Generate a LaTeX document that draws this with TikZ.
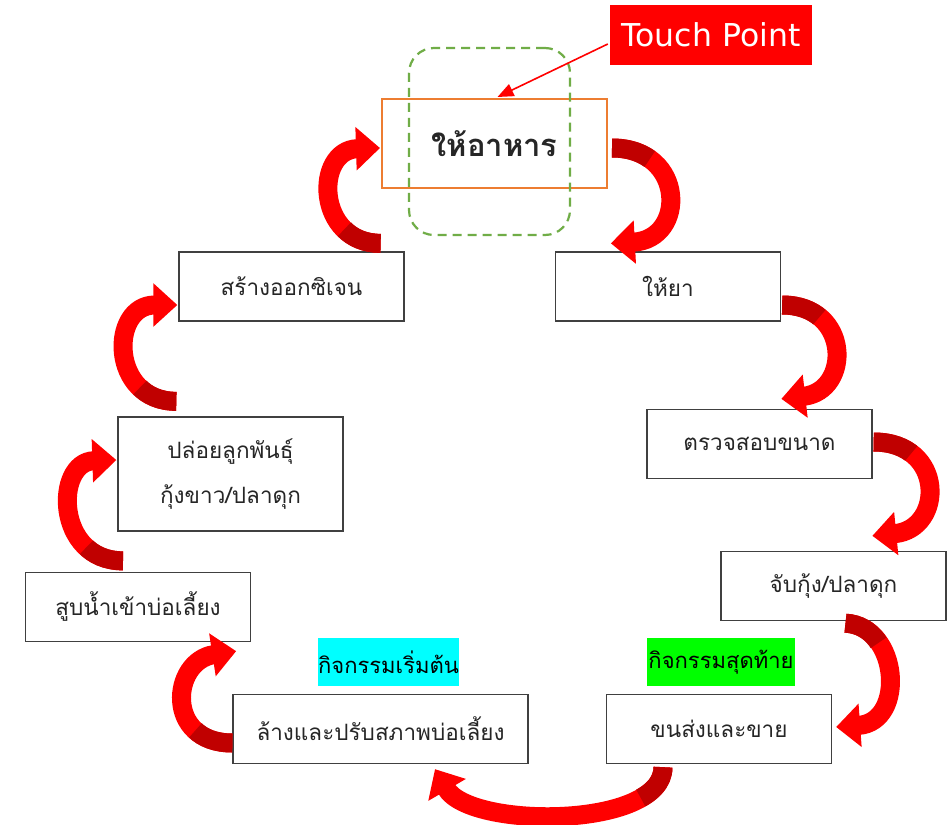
\documentclass[tikz,border=0pt]{standalone}
\usepackage{fontspec}
\newfontfamily\thai[Script=Thai]{Loma}
\newfontfamily\dejavu{DejaVu Sans}
\usetikzlibrary{arrows.meta,calc}
\definecolor{boxline}{HTML}{404040}
\definecolor{orangeline}{HTML}{ED7D31}
\definecolor{greendash}{HTML}{70AD47}
\definecolor{ribred}{HTML}{FF0000}
\definecolor{ribdark}{HTML}{C00000}
\definecolor{tagcyan}{HTML}{00FFFF}
\definecolor{taggreen}{HTML}{00FF00}
\newcommand\ribbonarrow[4]{%
  \draw[rib] #1 .. controls #2 and #3 .. #4;
  \draw[ribshade] #1 .. controls #2 and #3 .. #4;}
\begin{document}
\begin{tikzpicture}[x=1pt,y=-1pt,
  stepbox/.style={draw=boxline, line width=1.3pt, fill=white, minimum width=225pt,
    minimum height=69pt, inner sep=0pt, align=center, text=black!85,
    font=\thai\fontsize{22.5}{45}\selectfont},
  tag/.style={inner sep=0pt, minimum height=48pt, text=black,
    font=\thai\fontsize{22}{24}\selectfont},
  rib/.style={draw=ribred, line width=19pt, -{Triangle[width=42pt,length=24pt]}},
  ribshade/.style={draw=ribdark, line width=19pt, dash pattern=on 40pt off 5000pt}]
\useasboundingbox (0,0) rectangle (951,825);
\fill[white] (0,0) rectangle (951,825);

% nodes
\node[stepbox, draw=orangeline, line width=2pt, minimum height=89pt,
  font=\thai\bfseries\fontsize{31}{34}\selectfont] (feed) at (494.5,143.5) {ให้อาหาร};
\node[stepbox] (give) at (668,286.5) {ให้ยา};
\node[stepbox] (check) at (759.5,444) {ตรวจสอบขนาด};
\node[stepbox] (catch) at (833.5,586) {จับกุ้ง/ปลาดุก};
\node[stepbox] (ship) at (719,729) {ขนส่งและขาย};
\node[stepbox, minimum width=295pt] (wash) at (380.5,729) {ล้างและปรับสภาพบ่อเลี้ยง};
\node[stepbox] (pump) at (138,607) {สูบน้ำเข้าบ่อเลี้ยง};
\node[stepbox, minimum height=114pt] (release) at (230.5,474) {ปล่อยลูกพันธุ์\\กุ้งขาว/ปลาดุก};
\node[stepbox] (oxy) at (291.5,286.5) {สร้างออกซิเจน};

\node[tag, fill=tagcyan, minimum width=141pt] (start) at (388.5,662) {กิจกรรมเริ่มต้น};
\node[tag, fill=taggreen, minimum width=148pt] (end) at (721,662) {กิจกรรมสุดท้าย};

\node[fill=red, minimum width=202pt, minimum height=60pt, inner sep=0pt, text=white,
  font=\dejavu\fontsize{31.5}{34}\selectfont] (touch) at (711,35) {Touch Point};
\node[draw=greendash, line width=2.2pt, dash pattern=on 9pt off 6pt, rounded corners=25pt,
  minimum width=161pt, minimum height=187pt, inner sep=0pt] (tp) at (489.5,141.5) {};

\draw[red, line width=1.6pt, -{Triangle[width=13pt,length=16pt]}]
  ($(touch.west)+(-2,9)$) -- ($(feed.north)+(3,-1)$);

% curved arrows
\ribbonarrow{($(feed.east)+(4,4.5)$)}{+(74,0)}{+(76,-4)}{($(give.north west)+(56,-8)$)}
\ribbonarrow{($(give.east)+(1,18.5)$)}{+(69,0)}{+(70,-8)}{($(check.north west)+(135,-10)$)}
\ribbonarrow{($(check.east)+(1,-2)$)}{+(72,0)}{+(72,-7)}{($(catch.north west)+(152,-15)$)}
\ribbonarrow{($(catch.south)+(12,2)$)}{+(54,3)}{+(70,-5)}{($(ship.east)+(4,-2)$)}
\ribbonarrow{($(ship.south)+(-56,3)$)}{+(0,62)}{+(35,60)}{($(wash.south)+(54.5,5)$)}
\ribbonarrow{($(wash.west)+(0,14)$)}{+(-68,0)}{+(-65,10)}{($(pump.south east)+(-15,9)$)}
\ribbonarrow{($(pump.north)+(-15,-11)$)}{+(-68,0)}{+(-62,2)}{($(release.west)+(-1,-14)$)}
\ribbonarrow{($(release.north west)+(59,-15)$)}{+(-67,0)}{+(-68,0)}{($(oxy.west)+(-1,18.5)$)}
\ribbonarrow{($(oxy.north east)+(-24,-8)$)}{+(-65,0)}{+(-66,2)}{($(feed.west)+(-1,4.5)$)}
\end{tikzpicture}
\end{document}
